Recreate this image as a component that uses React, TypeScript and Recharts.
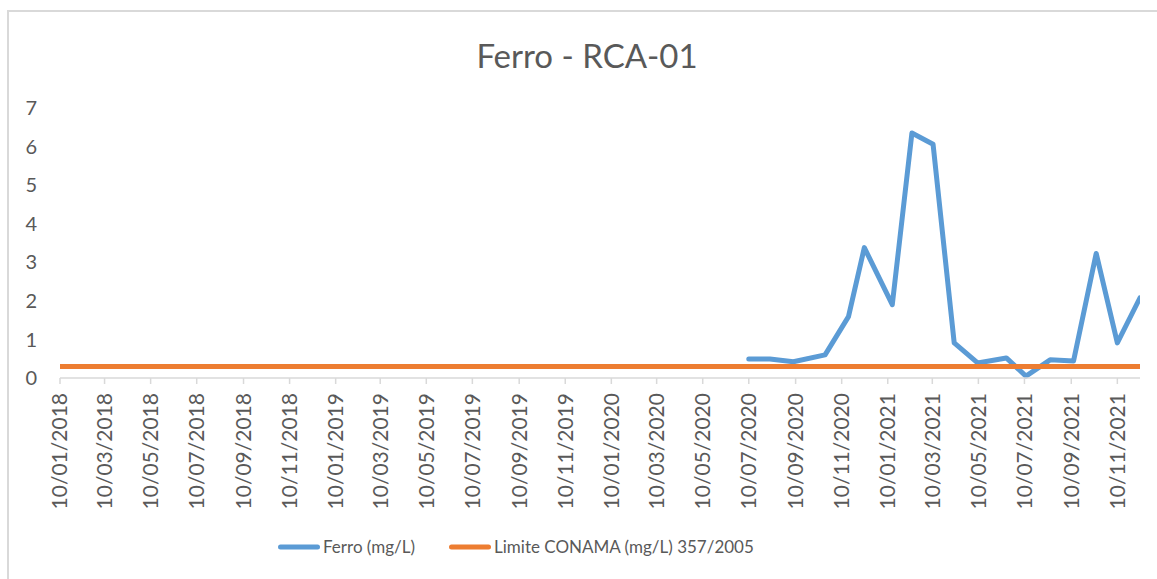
import React from 'react';
import { LineChart, Line, XAxis, YAxis, Legend } from 'recharts';

// datas das coletas (dd/mm/aaaa) e concentração de ferro
const FERRO_DATES = [
  '10/07/2020', '07/08/2020', '07/09/2020', '19/10/2020', '19/11/2020', '10/12/2020',
  '16/01/2021', '11/02/2021', '11/03/2021', '08/04/2021', '09/05/2021', '16/06/2021',
  '12/07/2021', '13/08/2021', '13/09/2021', '13/10/2021', '10/11/2021', '10/12/2021',
];
const FERRO_VALUES = [
  0.49, 0.49, 0.42, 0.6, 1.59, 3.38,
  1.9, 6.35, 6.06, 0.91, 0.39, 0.52,
  0.05, 0.47, 0.44, 3.23, 0.91, 2.08,
];

// limite CONAMA 357/2005 ao longo de todo o período
const LIMIT_DATES = ['10/01/2018', '10/12/2021'];
const LIMIT_VALUES = [0.3, 0.3];

const TICK_LABELS = [
  '10/01/2018', '10/03/2018', '10/05/2018', '10/07/2018', '10/09/2018', '10/11/2018',
  '10/01/2019', '10/03/2019', '10/05/2019', '10/07/2019', '10/09/2019', '10/11/2019',
  '10/01/2020', '10/03/2020', '10/05/2020', '10/07/2020', '10/09/2020', '10/11/2020',
  '10/01/2021', '10/03/2021', '10/05/2021', '10/07/2021', '10/09/2021', '10/11/2021',
];
const Y_TICKS = [0, 1, 2, 3, 4, 5, 6, 7];

const toDay = (s: string) => {
  const [d, m, y] = s.split('/').map(Number);
  return Date.UTC(y, m - 1, d) / 86400000;
};
const fmtDay = (v: number) => {
  const dt = new Date(v * 86400000);
  const dd = String(dt.getUTCDate()).padStart(2, '0');
  const mm = String(dt.getUTCMonth() + 1).padStart(2, '0');
  return `${dd}/${mm}/${dt.getUTCFullYear()}`;
};

const ferroData = FERRO_DATES.map((d, i) => ({ t: toDay(d), v: FERRO_VALUES[i] }));
const limitData = LIMIT_DATES.map((d, i) => ({ t: toDay(d), v: LIMIT_VALUES[i] }));
const xTicks = TICK_LABELS.map(toDay);

const TEXT = '#595959';
const FONT = 'Lato, "Open Sans", sans-serif';

const DateTick = (props: any) => {
  const { x, y, payload } = props;
  return (
    <text
      x={x}
      y={y}
      transform={`rotate(-90, ${x}, ${y})`}
      textAnchor="end"
      dy="0.35em"
      fill={TEXT}
      fontSize={21}
      fontFamily={FONT}
    >
      {fmtDay(payload.value)}
    </text>
  );
};

const renderLegend = (props: any) => (
  <div style={{ display: 'flex', alignItems: 'center', paddingLeft: 269, fontFamily: FONT }}>
    {(props.payload || []).map((e: any, i: number) => (
      <div key={i} style={{ display: 'flex', alignItems: 'center', marginRight: 34 }}>
        <svg width={42} height={10}>
          <line x1={2.5} y1={5} x2={39.5} y2={5} stroke={e.color} strokeWidth={5} strokeLinecap="round" />
        </svg>
        <span style={{ color: TEXT, fontSize: 17, marginLeft: 3 }}>{e.value}</span>
      </div>
    ))}
  </div>
);

export default function App() {
  return (
    <div
      style={{
        position: 'absolute',
        left: 7,
        top: 10,
        width: 1148,
        height: 567,
        borderLeft: '2px solid #d9d9d9',
        borderTop: '2px solid #d9d9d9',
        background: '#fff',
        fontFamily: FONT,
      }}
    >
      <div
        style={{
          position: 'absolute',
          left: 0,
          width: 1156,
          top: 23,
          textAlign: 'center',
          fontSize: 33,
          color: TEXT,
          lineHeight: '40px',
        }}
      >
        Ferro - RCA-01
      </div>
      <LineChart width={1148} height={567} margin={{ top: 96, right: 17, bottom: 0, left: 0 }}>
        <XAxis
          dataKey="t"
          type="number"
          domain={[toDay(LIMIT_DATES[0]), toDay(LIMIT_DATES[1])]}
          ticks={xTicks}
          interval={0}
          height={201}
          axisLine={{ stroke: '#d9d9d9', strokeWidth: 1.5 }}
          tickLine={{ stroke: '#d9d9d9', strokeWidth: 1.5 }}
          tickSize={6}
          tickMargin={9}
          tick={<DateTick />}
          allowDataOverflow
        />
        <YAxis
          type="number"
          domain={[0, 7]}
          ticks={Y_TICKS}
          width={51}
          axisLine={false}
          tickLine={false}
          tickSize={0}
          tickMargin={23}
          tick={{ fill: TEXT, fontSize: 20, fontFamily: FONT }}
        />
        <Legend
          layout="horizontal"
          verticalAlign="middle"
          align="center"
          content={renderLegend}
          wrapperStyle={{ top: 524, left: 0, width: 1148 }}
        />
        <Line
          data={ferroData}
          dataKey="v"
          name="Ferro (mg/L)"
          stroke="#5b9bd5"
          strokeWidth={5}
          strokeLinejoin="round"
          strokeLinecap="round"
          dot={false}
          activeDot={false}
          isAnimationActive={false}
        />
        <Line
          data={limitData}
          dataKey="v"
          name="Limite CONAMA (mg/L) 357/2005"
          stroke="#ed7d31"
          strokeWidth={5}
          strokeLinecap="round"
          dot={false}
          activeDot={false}
          isAnimationActive={false}
        />
      </LineChart>
    </div>
  );
}
